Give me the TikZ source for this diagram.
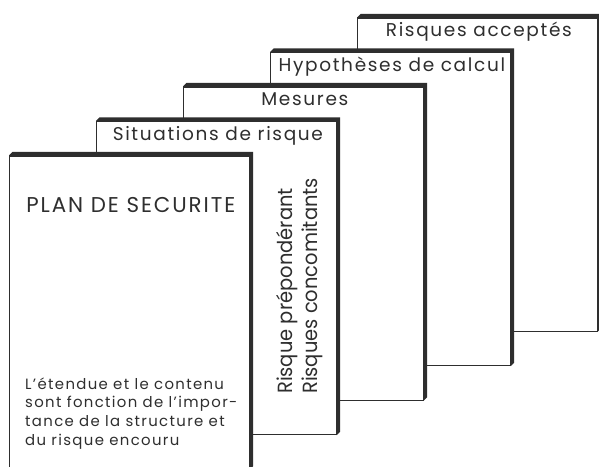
\documentclass[tikz,border=0pt]{standalone}
\usepackage{fontspec}
\setmainfont{Poppins}[LetterSpace=9]
\newfontfamily\etroit{Poppins}[FakeStretch=0.95]
\usetikzlibrary{positioning}
\definecolor{trait}{HTML}{2E2E2E}

\tikzset{
  carte/.style={draw=trait, line width=1.2pt, fill=white, minimum width=239.5pt,
    minimum height=313pt, inner sep=0pt, anchor=north west},
  titre/.style={font=\fontsize{18.5}{22}\selectfont, text=trait, inner sep=0pt, anchor=base},
  texte/.style={font=\fontsize{14.9}{18.6}\selectfont, text=trait, inner sep=0pt, align=left},
}
% bord epais en haut et a droite
\newcommand{\relief}[1]{%
  \fill[trait] (#1.north west) -- ++(3.5,3.5) -- ([shift={(3.5,3.5)}]#1.north east)
    -- ([shift={(3.5,3.5)}]#1.south east) -- (#1.south east) -- (#1.north east) -- cycle;}

\begin{document}
\begin{tikzpicture}[x=1pt,y=1pt]
  \useasboundingbox (0,0) rectangle (599,466);

  \node[carte] (c5) at (357,448.5) {};
  \relief{c5}
  \node[titre] (t5) at ([shift={(1.5,-19.5)}]c5.north) {Risques acceptés};

  \node[carte] (c4) at (270,414) {};
  \relief{c4}
  \node[titre] (t4) at ([shift={(1.5,-19.5)}]c4.north) {Hypothèses de calcul};

  \node[carte] (c3) at (183,379.5) {};
  \relief{c3}
  \node[titre] (t3) at ([shift={(1.5,-19.5)}]c3.north) {Mesures};

  \node[carte] (c2) at (96,345) {};
  \relief{c2}
  \node[titre] (t2) at ([shift={(1.5,-19.5)}]c2.north) {Situations de risque};
  \node[texte, font=\etroit\fontsize{20.5}{25}\selectfont, rotate=90, anchor=base west]
    (r2) at (317,72) {Risque prépondérant\\Risques concomitants};

  \node[carte] (c1) at (9,310.5) {};
  \relief{c1}
  \node[titre, font=\fontsize{21.4}{24}\selectfont] (t1) at ([shift={(1.5,-57.5)}]c1.north) {PLAN DE SECURITE};
  \node[texte, anchor=base west] (n1) at (25,21)
    {L'étendue et le contenu\\sont fonction de l'impor-\\tance de la structure et\\du risque encouru};
\end{tikzpicture}
\end{document}
